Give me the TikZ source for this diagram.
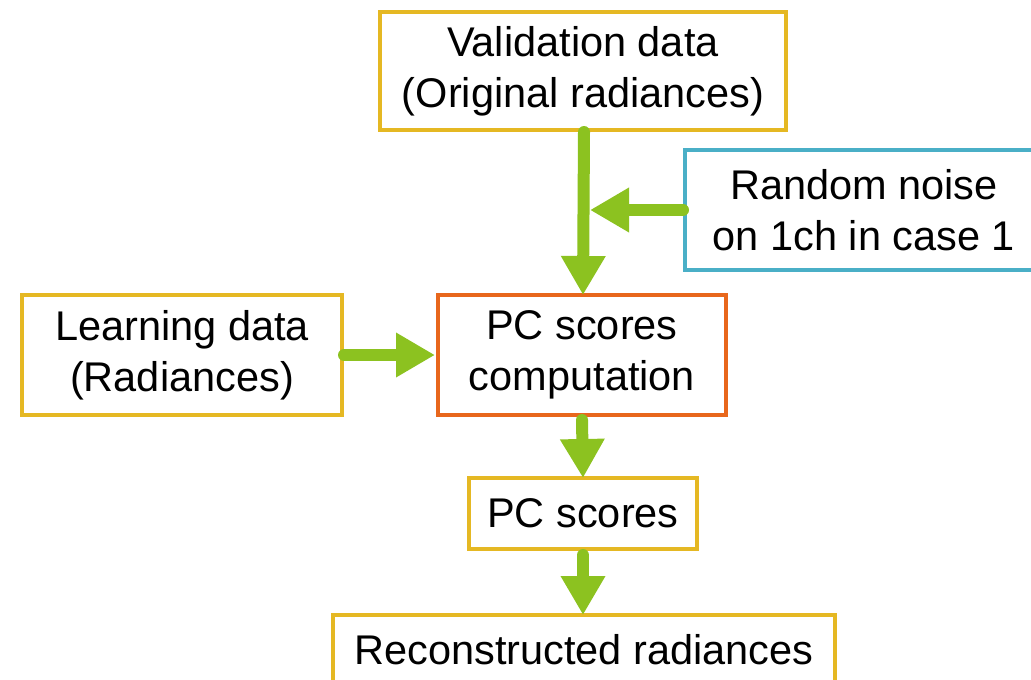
\documentclass[tikz,border=0pt]{standalone}
\usepackage{fontspec}
\setmainfont{Liberation Sans}
\usetikzlibrary{arrows.meta}
\definecolor{boxgold}{HTML}{E5B823}
\definecolor{boxorange}{HTML}{E8671C}
\definecolor{boxblue}{HTML}{4AAFC7}
\definecolor{arrgreen}{HTML}{8CC220}
\tikzset{
  box/.style={draw=#1, line width=4pt, rectangle, align=center, inner sep=0pt,
    font=\fontsize{41.5pt}{51pt}\selectfont, text=black},
  twoline/.style={execute at begin node={\rule{0pt}{38pt}}},
  flow/.style={draw=arrgreen, line width=12pt, line cap=round,
    -{Triangle[length=39pt,width=42pt,fill=arrgreen]}}
}
\begin{document}
\begin{tikzpicture}[x=1pt,y=-1pt]
\clip (0,0) rectangle (1031,680);
\fill[white] (0,0) rectangle (1031,680);
\node[box=boxgold, twoline, minimum width=406pt, minimum height=118pt] (val) at (583,71) {Validation data\\(Original radiances)};
\node[box=boxblue, twoline, minimum width=358pt, minimum height=120pt] (noise) at (864,210) {Random noise\\on 1ch in case 1};
\node[box=boxorange, twoline, minimum width=288pt, minimum height=120pt] (comp) at (582,355) {PC scores\\computation};
\node[box=boxgold, twoline, minimum width=320pt, minimum height=120pt] (learn) at (182,355) {Learning data\\(Radiances)};
\node[box=boxgold, minimum width=228pt, minimum height=71pt] (scores) at (583,513.5) {PC scores};
\node[box=boxgold, minimum width=502pt, minimum height=70pt] (recon) at (584,650) {Reconstructed radiances};
\coordinate (join) at (590,210);
\draw[flow] ([xshift=1pt]val.south) -- ([xshift=1pt,yshift=-2pt]comp.north);
\draw[flow] (noise.west) -- (join);
\draw[flow] (learn.east) -- ([xshift=-1pt]comp.west);
\draw[flow] ([yshift=-3pt]comp.south) -- ([yshift=-2pt]scores.north);
\draw[flow] ([yshift=-4pt]scores.south) -- ([xshift=-1pt,yshift=-2pt]recon.north);
\end{tikzpicture}
\end{document}
